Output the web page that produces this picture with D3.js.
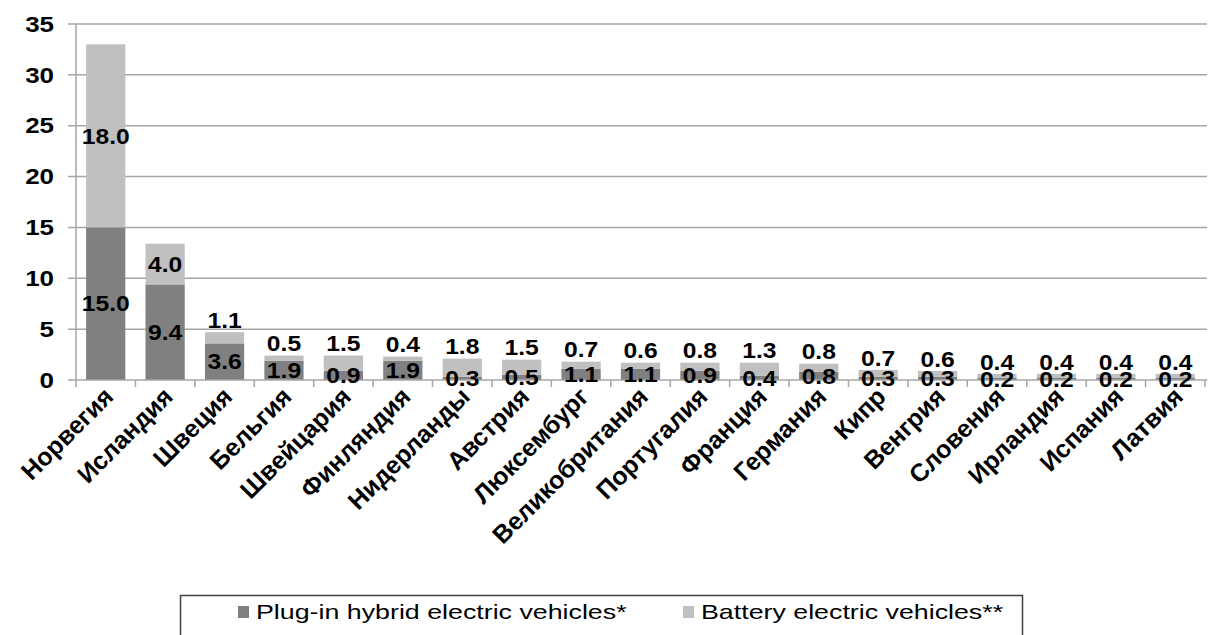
<!DOCTYPE html>
<html>
<head>
<meta charset="utf-8">
<script src="https://cdn.jsdelivr.net/npm/d3@7"></script>
<style>
  html, body { margin: 0; padding: 0; background: #fff; }
  svg { display: block; }
  text { font-family: "Liberation Sans", Arial, sans-serif; }
</style>
</head>
<body>
<svg id="chart" width="1208" height="635"></svg>
<script>
const countries = ["Норвегия","Исландия","Швеция","Бельгия","Швейцария","Финляндия","Нидерланды","Австрия","Люксембург","Великобритания","Португалия","Франция","Германия","Кипр","Венгрия","Словения","Ирландия","Испания","Латвия"];
const phev = [15.0, 9.4, 3.6, 1.9, 0.9, 1.9, 0.3, 0.5, 1.1, 1.1, 0.9, 0.4, 0.8, 0.3, 0.3, 0.2, 0.2, 0.2, 0.2];
const bev  = [18.0, 4.0, 1.1, 0.5, 1.5, 0.4, 1.8, 1.5, 0.7, 0.6, 0.8, 1.3, 0.8, 0.7, 0.6, 0.4, 0.4, 0.4, 0.4];
const yTicks = [0, 5, 10, 15, 20, 25, 30, 35];
const seriesNames = ["Plug-in hybrid electric vehicles*", "Battery electric vehicles**"];
const colors = ["#808080", "#c0c0c0"];

const svg = d3.select("#chart");
const x0 = 76, x1 = 1205, yBottom = 380, yTop = 24;

const x = d3.scaleBand().domain(countries).range([x0, x1]).paddingInner(0.34).paddingOuter(0.17);
const y = d3.scaleLinear().domain([0, 35]).range([yBottom, yTop]);

function stretchedText(g, px, py, str, opts) {
  const t = g.append("g").attr("transform", `translate(${px},${py}) scale(${opts.sx || 1},1)` + (opts.rotate ? ` rotate(${opts.rotate})` : ""));
  t.append("text")
    .attr("text-anchor", opts.anchor || "middle")
    .attr("dy", opts.dy || "0.35em")
    .attr("font-size", opts.size)
    .attr("font-weight", opts.weight || "bold")
    .attr("fill", opts.fill || "#000")
    .text(str);
  return t;
}

// gridlines
const grid = svg.append("g");
grid.selectAll("line").data(yTicks.filter(d => d > 0)).join("line")
  .attr("x1", x0 - 8).attr("x2", 1207)
  .attr("y1", d => y(d)).attr("y2", d => y(d))
  .attr("stroke", "#a6a6a6").attr("stroke-width", 1.5);

// y axis line and tick at 0
svg.append("line").attr("x1", x0).attr("x2", x0).attr("y1", y(35)).attr("y2", y(0))
  .attr("stroke", "#a6a6a6").attr("stroke-width", 1.5);
svg.append("line").attr("x1", x0 - 8).attr("x2", x0).attr("y1", y(0)).attr("y2", y(0))
  .attr("stroke", "#a6a6a6").attr("stroke-width", 1.5);

// y tick labels
const yLab = svg.append("g");
yTicks.forEach(v => stretchedText(yLab, 54, y(v), String(v), {size: 22, anchor: "end", sx: 1.18}));

// bars
const stackData = countries.map((c, i) => ({c, phev: phev[i], bev: bev[i]}));
const stack = d3.stack().keys(["phev", "bev"])(stackData);
const bars = svg.append("g");
stack.forEach((layer, li) => {
  bars.append("g").attr("fill", colors[li]).selectAll("rect").data(layer).join("rect")
    .attr("x", d => x(d.data.c))
    .attr("width", x.bandwidth())
    .attr("y", d => y(d[1]))
    .attr("height", d => y(d[0]) - y(d[1]));
});

// x axis line and ticks
svg.append("line").attr("x1", x0).attr("x2", 1207).attr("y1", y(0)).attr("y2", y(0))
  .attr("stroke", "#a6a6a6").attr("stroke-width", 1.5);
const step = x.step();
svg.append("g").selectAll("line").data(d3.range(countries.length + 1)).join("line")
  .attr("x1", i => x0 + i * step).attr("x2", i => x0 + i * step)
  .attr("y1", y(0)).attr("y2", y(0) + 7)
  .attr("stroke", "#a6a6a6").attr("stroke-width", 1.5);

// data labels
const lab = svg.append("g");
stack.forEach((layer, li) => {
  layer.forEach(d => {
    const cx = x(d.data.c) + x.bandwidth() / 2;
    const hpx = y(d[0]) - y(d[1]);
    let cy = (y(d[0]) + y(d[1])) / 2;
    if (li === 1 && hpx < 30) cy = y(d[1]) - 12;
    const val = li === 0 ? d.data.phev : d.data.bev;
    stretchedText(lab, cx, cy, val.toFixed(1), {size: 22, sx: 1.12});
  });
});

// x labels
const xl = svg.append("g");
countries.forEach(c => {
  stretchedText(xl, x(c) + x.bandwidth() / 2 + 3, y(0) + 12, c, {size: 25, anchor: "end", rotate: -45, dy: "0.35em"});
});

// legend
const lg = svg.append("g");
lg.append("rect").attr("x", 180.5).attr("y", 595.5).attr("width", 842).attr("height", 60)
  .attr("fill", "none").attr("stroke", "#404040").attr("stroke-width", 1.5);
const legendX = [238, 683];
seriesNames.forEach((n, i) => {
  lg.append("rect").attr("x", legendX[i]).attr("y", 606).attr("width", 11).attr("height", 12).attr("fill", colors[i]);
  stretchedText(lg, legendX[i] + 18, 612, n, {size: 20, weight: "normal", anchor: "start", sx: 1.34});
});
</script>
</body>
</html>
